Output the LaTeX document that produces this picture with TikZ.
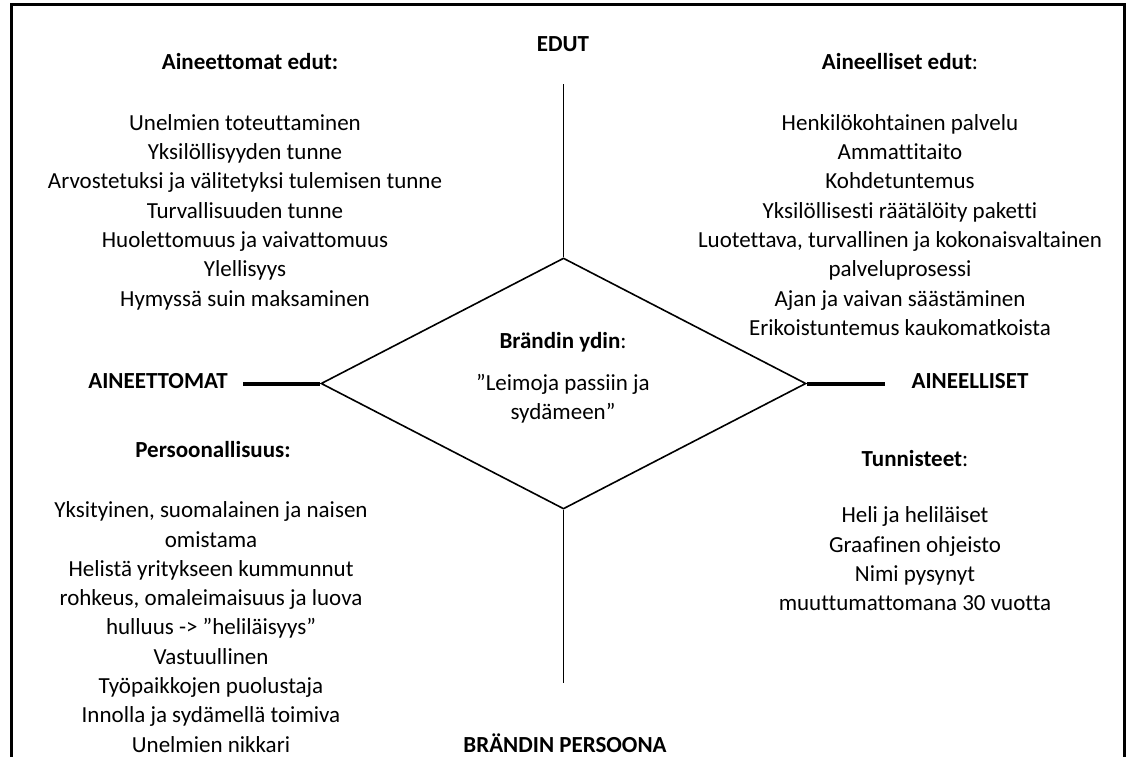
\documentclass[tikz,border=0pt]{standalone}
\usepackage{fontspec}
\setmainfont[Ligatures={TeX,NoCommon}]{Carlito}
\usepackage{tikz}
\usetikzlibrary{shapes.geometric,positioning}
\tikzstyle{heading} = [font=\fontsize{23}{29.3}\selectfont\bfseries, inner sep=0pt]
\tikzstyle{axislabel} = [font=\fontsize{23}{29.3}\selectfont\bfseries, inner sep=0pt]
\tikzstyle{listing} = [font=\fontsize{23}{29.3}\selectfont, align=center, inner sep=0pt]
\tikzstyle{axis} = [line width=1.6pt, color=black]
\tikzstyle{thickaxis} = [line width=4pt, color=black]
\tikzstyle{core} = [diamond, draw, line width=1.6pt, minimum width=485pt, minimum height=251pt, inner sep=0pt]

\begin{document}
\begin{tikzpicture}[x=1pt, y=-1pt]
\useasboundingbox (0,0) rectangle (1128,757);
% frame, open at the bottom
\draw[line width=3pt] (11,760) -- (11,5) -- (1124,5) -- (1124,760);

% brand core
\node (ydin) [core] at (563.5,383.5) {};
\node (ydintitle) [heading] at (563,342) {Brändin ydin\textmd{:}};
\node (ydintext) [listing] at (563,399) {”Leimoja passiin ja\\sydämeen”};

% axes
\node (edut) [axislabel] at (563,44) {EDUT};
\node (persoona) [axislabel] at (565,743) {BRÄNDIN PERSOONA};
\node (aineettomat) [axislabel] at (158,381) {AINEETTOMAT};
\node (aineelliset) [axislabel] at (970,381) {AINEELLISET};
\coordinate (topend) at (563.5,84);
\coordinate (bottomend) at (563.5,683);
\coordinate (leftend) at (243,383.5);
\coordinate (rightend) at (885,383.5);
\draw[axis] (ydin.north) -- (topend);
\draw[axis] (ydin.south) -- (bottomend);
\draw[thickaxis] (ydin.west) -- (leftend);
\draw[thickaxis] (ydin.east) -- (rightend);

% quadrants
\node (aeheading) [heading] at (250,62) {Aineettomat edut:};
\node (aelist) [listing] at (245,212) {Unelmien toteuttaminen\\Yksilöllisyyden tunne\\Arvostetuksi ja välitetyksi tulemisen tunne\\Turvallisuuden tunne\\Huolettomuus ja vaivattomuus\\Ylellisyys\\Hymyssä suin maksaminen};

\node (alheading) [heading] at (900,62) {Aineelliset edut\textmd{:}};
\node (allist) [listing] at (900,225) {Henkilökohtainen palvelu\\Ammattitaito\\Kohdetuntemus\\Yksilöllisesti räätälöity paketti\\Luotettava, turvallinen ja kokonaisvaltainen\\palveluprosessi\\Ajan ja vaivan säästäminen\\Erikoistuntemus kaukomatkoista};

\node (psheading) [heading] at (213,450) {Persoonallisuus:};
\node (pslist) [listing] at (211,627) {Yksityinen, suomalainen ja naisen\\omistama\\Helistä yritykseen kummunnut\\rohkeus, omaleimaisuus ja luova\\hulluus -> ”heliläisyys”\\Vastuullinen\\Työpaikkojen puolustaja\\Innolla ja sydämellä toimiva\\Unelmien nikkari};

\node (tnheading) [heading] at (915,459) {Tunnisteet\textmd{:}};
\node (tnlist) [listing] at (915,559) {Heli ja heliläiset\\Graafinen ohjeisto\\Nimi pysynyt\\muuttumattomana 30 vuotta};
\end{tikzpicture}
\end{document}
